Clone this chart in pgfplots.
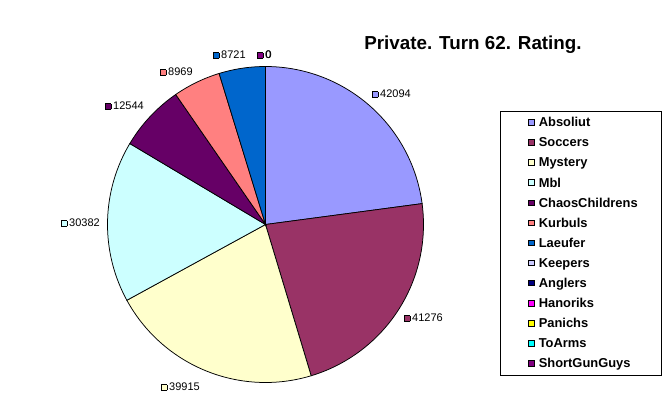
\documentclass[border=0pt]{standalone}
\usepackage{pgfplots}
\usepackage{pgfplotstable}
\pgfplotsset{compat=1.18}
\usepackage{fontspec}
\setmainfont{Liberation Sans}
\definecolor{cAbs}{HTML}{9999FF}
\definecolor{cSoc}{HTML}{993366}
\definecolor{cMys}{HTML}{FFFFCC}
\definecolor{cMbl}{HTML}{CCFFFF}
\definecolor{cCha}{HTML}{660066}
\definecolor{cKur}{HTML}{FF8080}
\definecolor{cLae}{HTML}{0066CC}
\definecolor{cKee}{HTML}{CCCCFF}
\definecolor{cAng}{HTML}{000080}
\definecolor{cHan}{HTML}{FF00FF}
\definecolor{cPan}{HTML}{FFFF00}
\definecolor{cToA}{HTML}{00FFFF}
\definecolor{cSho}{HTML}{800080}
\newcommand\labsq[1]{\raisebox{0.8pt}{\fboxsep=0pt\fboxrule=0.6pt\fcolorbox{black}{#1}{\rule{5pt}{0pt}\rule{0pt}{5pt}}}\hspace{1.8pt}}
\pgfplotstableread{
name value
Absoliut 42094
Soccers 41276
Mystery 39915
Mbl 30382
ChaosChildrens 12544
Kurbuls 8969
Laeufer 8721
Keepers 0
Anglers 0
Hanoriks 0
Panichs 0
ToArms 0
ShortGunGuys 0
}\piedata
\pgfplotstablegetelem{0}{value}\of\piedata\edef\vA{\pgfplotsretval}
\pgfplotstablegetelem{1}{value}\of\piedata\edef\vB{\pgfplotsretval}
\pgfplotstablegetelem{2}{value}\of\piedata\edef\vC{\pgfplotsretval}
\pgfplotstablegetelem{3}{value}\of\piedata\edef\vD{\pgfplotsretval}
\pgfplotstablegetelem{4}{value}\of\piedata\edef\vE{\pgfplotsretval}
\pgfplotstablegetelem{5}{value}\of\piedata\edef\vF{\pgfplotsretval}
\pgfplotstablegetelem{6}{value}\of\piedata\edef\vG{\pgfplotsretval}
\edef\tot{\fpeval{\vA+\vB+\vC+\vD+\vE+\vF+\vG}}
\edef\bA{90}
\edef\bB{\fpeval{90-360*(\vA)/\tot}}
\edef\bC{\fpeval{90-360*(\vA+\vB)/\tot}}
\edef\bD{\fpeval{90-360*(\vA+\vB+\vC)/\tot}}
\edef\bE{\fpeval{90-360*(\vA+\vB+\vC+\vD)/\tot}}
\edef\bF{\fpeval{90-360*(\vA+\vB+\vC+\vD+\vE)/\tot}}
\edef\bG{\fpeval{90-360*(\vA+\vB+\vC+\vD+\vE+\vF)/\tot}}
\edef\bH{\fpeval{90-360*(\vA+\vB+\vC+\vD+\vE+\vF+\vG)/\tot}}
\def\cx{265.5}\def\cy{174.5}\def\rr{158}
\begin{document}%
\begin{tikzpicture}
\begin{axis}[
  scale only axis, width=672pt, height=399pt,
  xmin=0, xmax=672, ymin=0, ymax=399,
  hide axis, clip=false,
  legend image code/.code={\draw[#1, draw=black, line width=0.6pt] (0pt,-1.75pt) rectangle (5.5pt,3.75pt);},
  legend cell align=left,
  legend style={at={(axis cs:528,282.5)}, anchor=north west, draw=none, fill=none,
    inner sep=0pt, row sep=7.1pt, /tikz/column sep=4.5pt,
    font=\fontsize{12.9}{15}\selectfont\bfseries,
    nodes={inner sep=0pt, text height=10pt, text depth=3pt}},
]
\coordinate (BL) at (axis cs:0,0);
\coordinate (TR) at (axis cs:672,399);
\addplot[fill=cAbs, draw=black, line width=0.75pt, domain=\bB:\bA, samples=80] ({\cx+\rr*cos(x)},{\cy+\rr*sin(x)}) -- (axis cs:\cx,\cy) -- cycle;
\addlegendentry{Absoliut}
\addplot[fill=cSoc, draw=black, line width=0.75pt, domain=\bC:\bB, samples=80] ({\cx+\rr*cos(x)},{\cy+\rr*sin(x)}) -- (axis cs:\cx,\cy) -- cycle;
\addlegendentry{Soccers}
\addplot[fill=cMys, draw=black, line width=0.75pt, domain=\bD:\bC, samples=80] ({\cx+\rr*cos(x)},{\cy+\rr*sin(x)}) -- (axis cs:\cx,\cy) -- cycle;
\addlegendentry{Mystery}
\addplot[fill=cMbl, draw=black, line width=0.75pt, domain=\bE:\bD, samples=60] ({\cx+\rr*cos(x)},{\cy+\rr*sin(x)}) -- (axis cs:\cx,\cy) -- cycle;
\addlegendentry{Mbl}
\addplot[fill=cCha, draw=black, line width=0.75pt, domain=\bF:\bE, samples=30] ({\cx+\rr*cos(x)},{\cy+\rr*sin(x)}) -- (axis cs:\cx,\cy) -- cycle;
\addlegendentry{ChaosChildrens}
\addplot[fill=cKur, draw=black, line width=0.75pt, domain=\bG:\bF, samples=25] ({\cx+\rr*cos(x)},{\cy+\rr*sin(x)}) -- (axis cs:\cx,\cy) -- cycle;
\addlegendentry{Kurbuls}
\addplot[fill=cLae, draw=black, line width=0.75pt, domain=\bH:\bG, samples=25] ({\cx+\rr*cos(x)},{\cy+\rr*sin(x)}) -- (axis cs:\cx,\cy) -- cycle;
\addlegendentry{Laeufer}
\addlegendimage{fill=cKee}\addlegendentry{Keepers}
\addlegendimage{fill=cAng}\addlegendentry{Anglers}
\addlegendimage{fill=cHan}\addlegendentry{Hanoriks}
\addlegendimage{fill=cPan}\addlegendentry{Panichs}
\addlegendimage{fill=cToA}\addlegendentry{ToArms}
\addlegendimage{fill=cSho}\addlegendentry{ShortGunGuys}
% legend frame
\draw[black, line width=0.8pt] (axis cs:500.5,24) rectangle (axis cs:661.5,287.5);
% title
\node[anchor=base, font=\fontsize{18.8}{21}\selectfont\bfseries] at (axis cs:473,349) {Private. Turn 62. Rating.};
% data labels
\begin{scope}[every node/.style={anchor=west, inner sep=0pt, font=\fontsize{11}{13}\selectfont}]
\node at (axis cs:372,305) {\labsq{cAbs}42094};
\node at (axis cs:404,81) {\labsq{cSoc}41276};
\node at (axis cs:161,12) {\labsq{cMys}39915};
\node at (axis cs:61,176) {\labsq{cMbl}30382};
\node at (axis cs:105,293) {\labsq{cCha}12544};
\node at (axis cs:160,327) {\labsq{cKur}8969};
\node at (axis cs:213,344) {\labsq{cLae}8721};
\node at (axis cs:257,344) {\labsq{cSho}0};
\node at (axis cs:257.4,344) {\phantom{\labsq{cSho}}0};
\end{scope}
\end{axis}
\pgfresetboundingbox
\path (BL) rectangle (TR);
\end{tikzpicture}%
\end{document}
